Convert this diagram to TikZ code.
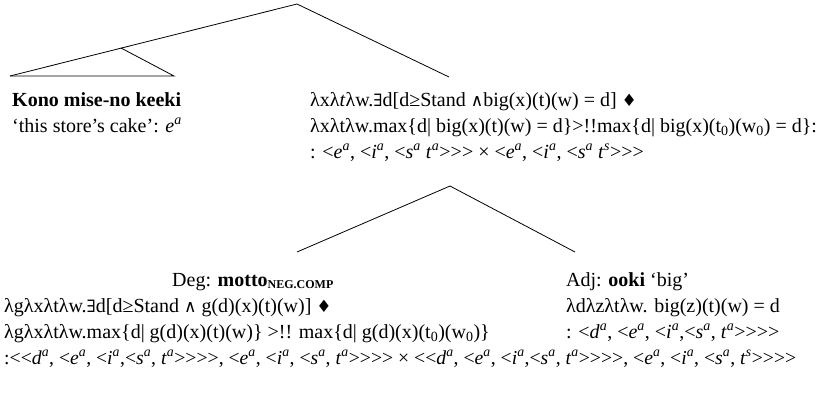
\documentclass[tikz,border=0pt]{standalone}
\usepackage{fontspec}
\setmainfont{Liberation Serif}[Ligatures=TeXOff]
\newfontfamily\symf{DejaVu Serif}[Scale=0.85]
% typed expression with italic superscript: \ty{e}{a}
\newcommand{\ty}[2]{\textit{#1}\textsuperscript{\textit{#2}}}
\newcommand{\sy}[1]{{\symf #1}}
\begin{document}
\begin{tikzpicture}[x=1pt,y=-1pt,
  txt/.style={anchor=base west, inner sep=0pt, font=\fontsize{20}{24}\selectfont},
  branch/.style={line width=0.8pt, line join=miter}]
\useasboundingbox (0,0) rectangle (826,400);

% upper tree
\coordinate (top) at (297,4);
\coordinate (dpL) at (10,76);
\coordinate (dpA) at (121,48);
\coordinate (dpR) at (174,76);
\coordinate (vp) at (449,77);
\draw[branch] (dpL) -- (top) -- (vp);
\draw[branch] (dpL) -- (dpR) -- (dpA);

% lower tree
\coordinate (mid) at (450,186);
\coordinate (deg) at (297,252);
\coordinate (adj) at (575,252);
\draw[branch] (deg) -- (mid) -- (adj);

% subject DP
\node[txt] (np1) at (12,106) {\textbf{Kono mise-no keeki}};
\node[txt] (np2) at (12,132) {‘this store’s cake’: \ty{e}{a}};

% predicate
\node[txt] (vp1) at (310,106) {λxλ\textit{t}λw.\sy{∃}d[d≥Stand \sy{∧}big(x)(t)(w) = d] \sy{♦}};
\node[txt] (vp2) at (310,132) {λxλtλw.max\{d| big(x)(t)(w) = d\}>!!max\{d| big(x)(t\textsubscript{0})(w\textsubscript{0}) = d\}:};
\node[txt] (vp3) at (310,158) {: <\ty{e}{a}, <\ty{i}{a}, <\ty{s}{a} \ty{t}{a}>>> × <\ty{e}{a}, <\ty{i}{a}, <\ty{s}{a} \ty{t}{s}>>>};

% degree head
\node[txt] (dg1) at (172,286) {Deg: \textbf{motto}\raisebox{-2.5pt}{\fontsize{12}{12}\selectfont\bfseries NEG.COMP}};
\node[txt] (dg2) at (4,312) {λgλxλtλw.\sy{∃}d[d≥Stand \sy{∧} g(d)(x)(t)(w)] \sy{♦}};
\node[txt] (dg3) at (4,338) {λgλxλtλw.max\{d| g(d)(x)(t)(w)\} >!! max\{d| g(d)(x)(t\textsubscript{0})(w\textsubscript{0})\}};
\node[txt] (dg4) at (4,364) {\fontsize{19.7}{24}\selectfont:<<\ty{d}{a}, <\ty{e}{a}, <\ty{i}{a},<\ty{s}{a}, \ty{t}{a}>>>>, <\ty{e}{a}, <\ty{i}{a}, <\ty{s}{a}, \ty{t}{a}>>>> × <<\ty{d}{a}, <\ty{e}{a}, <\ty{i}{a},<\ty{s}{a}, \ty{t}{a}>>>>, <\ty{e}{a}, <\ty{i}{a}, <\ty{s}{a}, \ty{t}{s}>>>>};

% adjective
\node[txt] (aj1) at (566,286) {Adj: \textbf{ooki} ‘big’};
\node[txt] (aj2) at (566,312) {λdλzλtλw. big(z)(t)(w) = d};
\node[txt] (aj3) at (566,338) {: <\ty{d}{a}, <\ty{e}{a}, <\ty{i}{a},<\ty{s}{a}, \ty{t}{a}>>>>};
\end{tikzpicture}
\end{document}
